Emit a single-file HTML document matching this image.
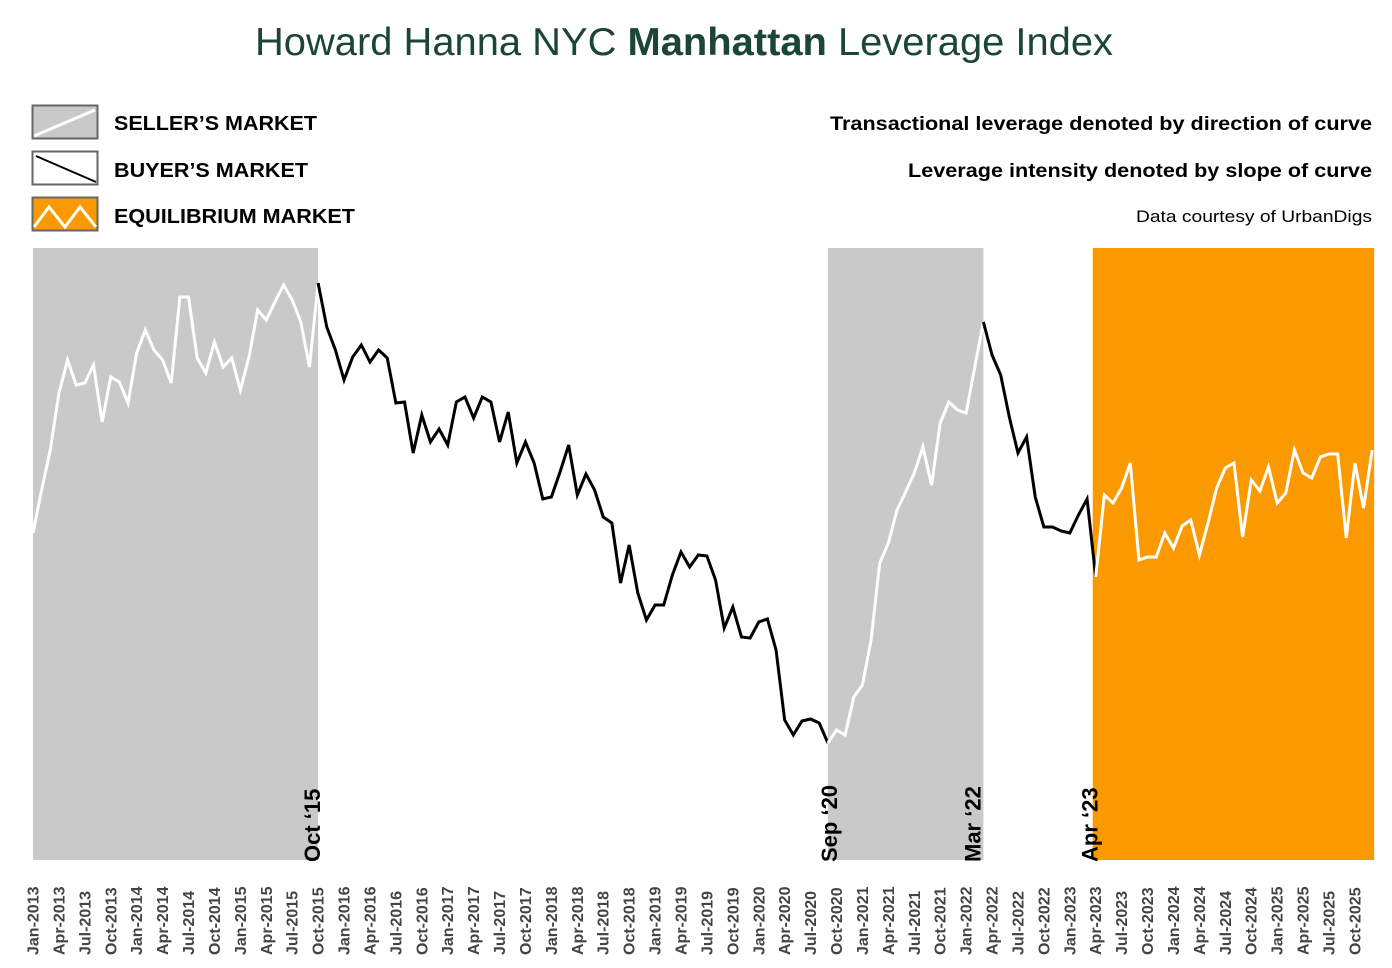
<!DOCTYPE html>
<html><head><meta charset="utf-8">
<style>
html,body{margin:0;padding:0;background:#fff;}
body{width:1392px;height:968px;overflow:hidden;position:relative;font-family:"Liberation Sans",Arial,sans-serif;}
svg{position:absolute;left:0;top:0;}
</style></head>
<body>
<svg id="chart" width="1392" height="968">
  <text x="255" y="55" font-size="39" fill="#1b4536" textLength="858" lengthAdjust="spacingAndGlyphs">Howard Hanna NYC <tspan font-weight="bold">Manhattan</tspan> Leverage Index</text>
  <g>
    <g>
      <rect x="32.5" y="105.5" width="65" height="33" fill="#c9c9c9" stroke="#666" stroke-width="2"/>
      <line x1="34" y1="136" x2="95" y2="110" stroke="#fff" stroke-width="3"/>
      <text x="114" y="130" font-size="20" font-weight="bold" fill="#000" textLength="203" lengthAdjust="spacingAndGlyphs">SELLER’S MARKET</text>
    </g>
    <g>
      <rect x="32.5" y="151.5" width="65" height="33" fill="#fff" stroke="#666" stroke-width="2"/>
      <line x1="36" y1="156" x2="96" y2="182" stroke="#000" stroke-width="2"/>
      <text x="114" y="177" font-size="20" font-weight="bold" fill="#000" textLength="194" lengthAdjust="spacingAndGlyphs">BUYER’S MARKET</text>
    </g>
    <g>
      <rect x="32.5" y="197.5" width="65" height="33" fill="#fb9a00" stroke="#666" stroke-width="2"/>
      <polyline points="34,227 49,207 65,227 80,207 96,227" fill="none" stroke="#fff" stroke-width="3"/>
      <text x="114" y="223" font-size="20" font-weight="bold" fill="#000" textLength="241" lengthAdjust="spacingAndGlyphs">EQUILIBRIUM MARKET</text>
    </g>
  </g>
  <text x="830" y="130" font-size="19" font-weight="bold" fill="#000" textLength="542" lengthAdjust="spacingAndGlyphs">Transactional leverage denoted by direction of curve</text>
  <text x="908" y="177" font-size="19" font-weight="bold" fill="#000" textLength="464" lengthAdjust="spacingAndGlyphs">Leverage intensity denoted by slope of curve</text>
  <text x="1136" y="222" font-size="17" fill="#000" textLength="236" lengthAdjust="spacingAndGlyphs">Data courtesy of UrbanDigs</text>
  <g id="bands"></g>
  <g id="line"></g>
  <g id="annots"></g>
  <g id="xticks"></g>
</svg>
<script>
// Monthly index values Jan-2013 .. Dec-2025
const values = [327,370,410,467,500,475,477,495,438,483,478,457,507,530,510,500,477,563,563,502,487,518,493,502,470,503,550,540,558,575,560,538,493,577,
533,510,480,503,515,498,510,502,457,458,407,445,418,431,415,458,463,442,463,458,418,448,397,418,397,361,363,388,415,365,386,370,343,
337,277,315,267,240,255,255,285,308,293,305,304,280,232,253,223,222,238,241,210,140,125,139,141,137,117,
130,125,163,175,220,297,317,350,368,387,413,375,437,458,450,447,493,538,
505,485,443,407,423,363,333,333,329,327,345,361,283,
365,357,372,397,300,303,303,327,312,334,340,305,337,372,392,397,323,380,369,393,357,367,410,387,382,403,406,406,322,397,352,410];
const bandStarts = [0, 92, 123];
const bandEnds = [33, 110, 155];
const bandTypes = ['seller','seller','equilibrium'];
const annotLabels = ["Oct ‘15","Sep ‘20","Mar ‘22","Apr ‘23"];
const annotIdx = [33, 92, 110, 123];
const monthNames = ['Jan','Apr','Jul','Oct'];
const startYear = 2013;

const NS='http://www.w3.org/2000/svg';
const X0=33, STEP=8.64, YB=860, YT=248, VMAX=612;
function xOf(i){return X0+i*STEP;}
function yOf(v){return YB-(v/VMAX)*(YB-YT);}
function mk(tag,attrs,parent){const e=document.createElementNS(NS,tag);for(const k in attrs)e.setAttribute(k,attrs[k]);parent.appendChild(e);return e;}

const bands=document.getElementById('bands');
for(let b=0;b<bandStarts.length;b++){
  const eq=bandTypes[b]==='equilibrium';
  const x1=xOf(bandStarts[b])-(eq?3:0);
  const x2=eq?xOf(bandEnds[b])+2:xOf(bandEnds[b]);
  const r=mk('rect',{x:x1,y:YT,width:x2-x1,height:YB-YT,fill:eq?'#fb9a00':'#c9c9c9'},bands);
  
  
}
function inBand(i){for(let b=0;b<bandStarts.length;b++){if(i>=bandStarts[b]&&i+1<=bandEnds[b])return true;}return false;}
const lg=document.getElementById('line');
let segW=null,pts=[];
function flush(){if(pts.length>1){const p=mk('polyline',{points:pts.join(' '),fill:'none',stroke:segW?'#fff':'#000','stroke-width':3,'stroke-linejoin':'miter'},lg);
  
  }}
for(let i=0;i<values.length-1;i++){
  const w=inBand(i);
  if(w!==segW){flush();pts=[xOf(i)+','+yOf(values[i])];segW=w;}
  pts.push(xOf(i+1)+','+yOf(values[i+1]));
}
flush();

const an=document.getElementById('annots');
const offs=[-6,1,-11,-6];
for(let a=0;a<annotLabels.length;a++){
  const x=xOf(annotIdx[a])+offs[a]+8;
  const t=mk('text',{x:0,y:0,transform:'translate('+x+',862) rotate(-90)','font-size':22,'font-weight':'bold',fill:'#000'},an);
  t.textContent=annotLabels[a];
  
  
}
const xt=document.getElementById('xticks');
for(let i=0;i<values.length;i+=3){
  const lbl=monthNames[(i%12)/3]+'-'+(startYear+Math.floor(i/12));
  const x=xOf(i)+5.5;
  const t=mk('text',{x:0,y:0,transform:'translate('+x+',955) rotate(-90)','font-size':16,'font-weight':'bold',fill:'#444'},xt);
  t.textContent=lbl;
  
  
}
</script>
</body></html>
